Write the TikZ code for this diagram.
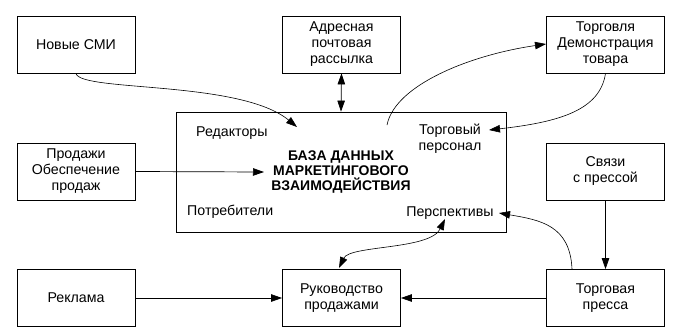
\documentclass[tikz,border=0pt]{standalone}
\usepackage{fontspec}
\setmainfont{Liberation Sans}
\usetikzlibrary{arrows.meta}
\begin{document}
\begin{tikzpicture}[x=1pt,y=-1pt,
  txt/.style={font=\fontsize{14.2}{16}\selectfont},
  box/.style={draw, line width=0.8pt, minimum width=118pt, minimum height=57pt, align=center, inner sep=0pt, txt},
  lbl/.style={inner sep=0pt, align=center, txt},
  tip/.style={-{Triangle[length=11pt,width=7.5pt]}},
  tips/.style={{Triangle[length=11pt,width=7.5pt]}-{Triangle[length=11pt,width=7.5pt]}},
  conn/.style={line width=0.7pt},
  curve/.style={line width=0.6pt}]
\useasboundingbox (0,0) rectangle (677,335);
% boxes
\node[box] (smi) at (76,44.5) {Новые СМИ};
\node[box] (mail) at (341.5,44.5) {Адресная\\почтовая\\рассылка};
\node[box] (trade) at (605.5,44.5) {Торговля\\Демонстрация\\товара};
\node[box] (sales) at (76,171.5) {Продажи\\Обеспечение\\продаж};
\node[box] (prel) at (605.5,171.5) {Связи\\с прессой};
\node[box] (ads) at (76,298) {Реклама};
\node[box] (mgmt) at (341.5,298) {Руководство\\продажами};
\node[box] (tpress) at (605.5,298) {Торговая\\пресса};
\node[draw, line width=0.8pt, minimum width=330pt, minimum height=120pt, inner sep=0pt] (main) at (341,172) {};
% labels inside main
\node[lbl, anchor=west] (ed) at (196,133) {Редакторы};
\node[lbl] (staff) at (450,139) {Торговый\\персонал};
\node[lbl, font=\fontsize{14}{15}\selectfont\bfseries] (title) at (341,172) {БАЗА ДАННЫХ\\МАРКЕТИНГОВОГО\\ВЗАИМОДЕЙСТВИЯ};
\node[lbl, anchor=west] (cons) at (187,212) {Потребители};
\node[lbl] (persp) at (450,213) {Перспективы};
% connector end points
\coordinate (edin) at (297,127);
\coordinate (mainout) at (387,125);
\coordinate (tradein) at (546,44);
\coordinate (staffin) at (489,130);
\coordinate (titlein) at (264,172);
\coordinate (tpout) at (572,269);
\coordinate (perspin) at (499,213);
\coordinate (perspb) at (445,219);
\coordinate (mgmtin) at (339,268);
% connectors
\draw[tip, curve] (smi.south) .. controls (80,92) and (240,80) .. (edin);
\draw[tips, conn] (mail.south) -- (main.north);
\draw[tip, curve] (mainout) .. controls (395,85) and (470,55) .. (tradein);
\draw[tip, curve] (trade.south) .. controls (600,110) and (560,122) .. (staffin);
\draw[tip, conn] (sales.east) -- (titlein);
\draw[tip, conn] (ads.east) -- (mgmt.west);
\draw[tip, conn] (tpress.west) -- (mgmt.east);
\draw[tip, conn] (prel.south) -- (tpress.north);
\draw[tip, curve] (tpout) .. controls (570,225) and (540,220) .. (perspin);
\draw[tips, curve] (perspb) .. controls (430,250) and (350,245) .. (mgmtin);
\end{tikzpicture}
\end{document}
